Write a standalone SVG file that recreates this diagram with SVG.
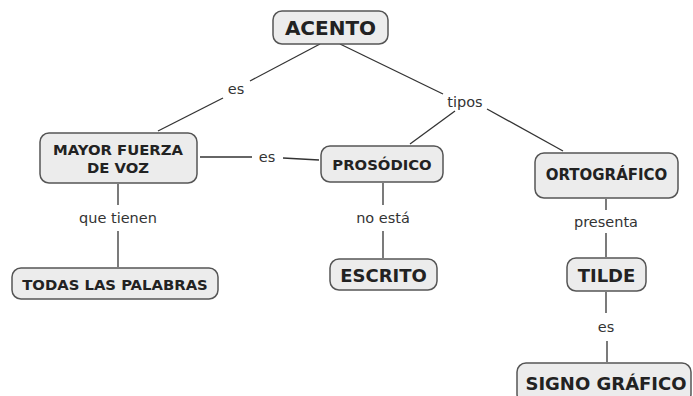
<svg xmlns="http://www.w3.org/2000/svg" width="693" height="396" viewBox="0 0 693 396">
<style>
.box{fill:#ececec;stroke:#555;stroke-width:1.5}
.t{font-family:"DejaVu Sans","Liberation Sans",sans-serif;font-weight:bold;fill:#222;text-anchor:middle}
.l{font-family:"DejaVu Sans","Liberation Sans",sans-serif;font-size:14.5px;fill:#333;text-anchor:middle}
.c{stroke:#333;stroke-width:1.3;fill:none}
</style>
<rect width="693" height="396" fill="#fff"/>
<g id="connectors">
<line class="c" x1="320" y1="44" x2="250" y2="81"/>
<line class="c" x1="223" y1="98" x2="158" y2="131"/>
<line class="c" x1="340" y1="44" x2="443" y2="94"/>
<line class="c" x1="455" y1="111" x2="410" y2="144"/>
<line class="c" x1="487" y1="109" x2="563" y2="151"/>
<line class="c" x1="200" y1="157" x2="252" y2="157"/>
<line class="c" x1="283" y1="158" x2="319" y2="160"/>
<line class="c" x1="118" y1="184" x2="118" y2="205"/>
<line class="c" x1="118" y1="231" x2="118" y2="267"/>
<line class="c" x1="383" y1="183" x2="383" y2="205"/>
<line class="c" x1="383" y1="231" x2="383" y2="258"/>
<line class="c" x1="606" y1="199" x2="606" y2="210"/>
<line class="c" x1="606" y1="233" x2="606" y2="257"/>
<line class="c" x1="606" y1="292" x2="606" y2="313"/>
<line class="c" x1="607" y1="341" x2="607" y2="362"/>
<text class="l" x="236" y="94">es</text>
<text class="l" x="465" y="107">tipos</text>
<text class="l" x="267" y="162">es</text>
<text class="l" x="118" y="223">que tienen</text>
<text class="l" x="383" y="223">no está</text>
<text class="l" x="606" y="227">presenta</text>
<text class="l" x="606" y="332">es</text>
</g>
<g id="acento"><rect class="box" x="273" y="11" width="115" height="33" rx="9"/><text class="t" x="330.5" y="35" font-size="20">ACENTO</text></g>
<g id="mayor"><rect class="box" x="40" y="133" width="157" height="50" rx="9"/><text class="t" x="118" y="155" font-size="14.8">MAYOR FUERZA</text><text class="t" x="118" y="173" font-size="14.8">DE VOZ</text></g>
<g id="prosodico"><rect class="box" x="321" y="146" width="122" height="36" rx="9"/><text class="t" x="382" y="170" font-size="14.8">PROSÓDICO</text></g>
<g id="ortografico"><rect class="box" x="535" y="153" width="143" height="45" rx="9"/><text class="t" x="606.5" y="180" font-size="15">ORTOGRÁFICO</text></g>
<g id="todas"><rect class="box" x="12" y="268" width="206" height="31" rx="9"/><text class="t" x="115" y="289.5" font-size="14.8">TODAS LAS PALABRAS</text></g>
<g id="escrito"><rect class="box" x="330" y="259" width="107" height="31" rx="9"/><text class="t" x="383.5" y="281.5" font-size="18">ESCRITO</text></g>
<g id="tilde"><rect class="box" x="567" y="258" width="79" height="33" rx="9"/><text class="t" x="606.5" y="281.5" font-size="18">TILDE</text></g>
<g id="signo"><rect class="box" x="517" y="363" width="174" height="40" rx="9"/><text class="t" x="606" y="390" font-size="18">SIGNO GRÁFICO</text></g>
</svg>
